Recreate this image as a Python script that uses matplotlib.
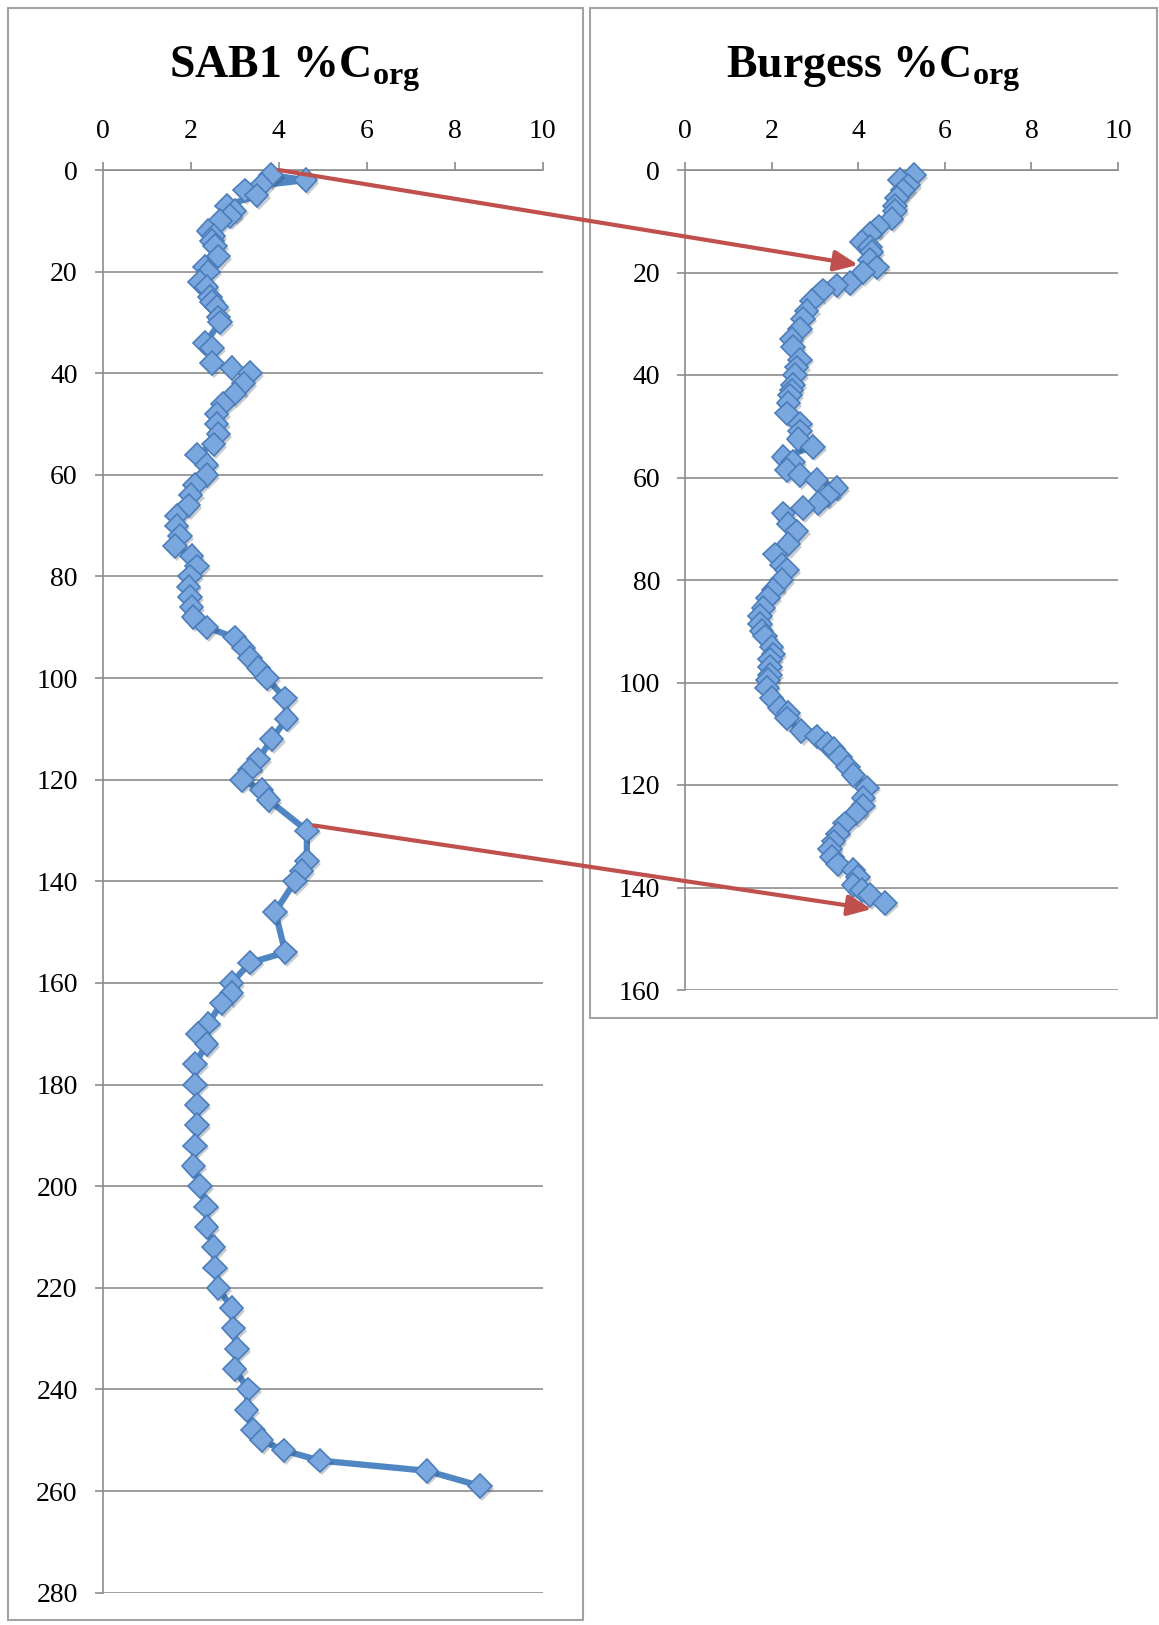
import matplotlib
matplotlib.use("Agg")
import matplotlib.pyplot as plt
import matplotlib.patheffects as pe
from matplotlib.patches import Rectangle, ConnectionPatch

plt.rcParams['font.family'] = ['Liberation Serif', 'DejaVu Serif']
plt.rcParams['mathtext.fontset'] = 'custom'
plt.rcParams['mathtext.rm'] = 'Liberation Serif'
plt.rcParams['mathtext.bf'] = 'Liberation Serif:bold'

# SAB1 core: depth (cm) and organic carbon (%)
sab1_depth = [1, 2, 3, 4, 5, 7, 8, 9, 10, 12, 13, 14, 15, 17, 19, 20, 22, 23,
              25, 26, 27, 29, 30, 34, 35, 38, 39, 40, 42, 44, 46, 48, 50, 52,
              54, 56, 58, 60, 62, 64, 66, 68, 70, 72, 74, 76, 78, 80, 82, 84,
              86, 88, 90, 92, 94, 96, 98, 100, 104, 108, 112, 116, 118, 120,
              122, 124, 130, 136, 138, 140, 146, 154, 156, 160, 162, 164, 168,
              170, 172, 176, 180, 184, 188, 192, 196, 200, 204, 208, 212, 216,
              220, 224, 228, 232, 236, 240, 244, 248, 250, 252, 254, 256, 259]
sab1_corg = [3.82, 4.61, 3.61, 3.23, 3.50, 2.82, 3.00, 2.89, 2.67, 2.40, 2.52,
             2.48, 2.55, 2.63, 2.33, 2.40, 2.20, 2.36, 2.44, 2.48, 2.59, 2.63,
             2.67, 2.33, 2.48, 2.48, 2.93, 3.35, 3.20, 3.00, 2.74, 2.59, 2.59,
             2.63, 2.52, 2.14, 2.36, 2.36, 2.10, 2.00, 1.95, 1.68, 1.68, 1.76,
             1.64, 2.02, 2.14, 1.98, 1.95, 1.98, 2.02, 2.06, 2.36, 3.00, 3.20,
             3.35, 3.54, 3.73, 4.14, 4.18, 3.84, 3.54, 3.35, 3.16, 3.61, 3.77,
             4.64, 4.64, 4.52, 4.37, 3.92, 4.15, 3.35, 2.93, 2.93, 2.70, 2.40,
             2.17, 2.36, 2.10, 2.10, 2.14, 2.14, 2.10, 2.06, 2.21, 2.35, 2.36,
             2.52, 2.55, 2.63, 2.93, 2.97, 3.05, 3.00, 3.31, 3.27, 3.42, 3.61,
             4.11, 4.94, 7.36, 8.58]

# Burgess core: depth (cm) and organic carbon (%)
burg_depth = [1, 2, 3, 4, 5.5, 7, 8, 9.5, 11, 12.5, 14, 15, 16, 17.5, 19, 20,
              22, 22.5, 23.5, 25.5, 27.5, 29, 31, 33, 34.5, 37, 38.5, 40, 42,
              43, 44, 45.5, 47.5, 49.5, 51, 52.5, 54, 56, 57, 58.5, 59.5, 60.5,
              62, 63.5, 65, 66, 67, 69, 70.5, 73, 75, 77, 78, 80, 82, 83.5,
              85.5, 87, 88.5, 90, 91, 93, 94.5, 95.5, 97, 98.5, 99.5, 101, 103,
              105, 106, 107, 109.5, 110.5, 112, 113, 114.5, 116.5, 118, 120.5,
              122.5, 124, 125.5, 127.5, 129.5, 131, 132.5, 134, 135.5, 136.5,
              138, 139.5, 140.5, 141.5, 143]
burg_corg = [5.29, 4.97, 5.16, 5.04, 4.89, 4.85, 4.85, 4.77, 4.47, 4.27, 4.08,
             4.27, 4.31, 4.27, 4.43, 4.12, 3.81, 3.50, 3.19, 2.93, 2.81, 2.73,
             2.66, 2.46, 2.50, 2.66, 2.58, 2.54, 2.50, 2.46, 2.42, 2.39, 2.35,
             2.66, 2.66, 2.62, 2.96, 2.27, 2.50, 2.35, 2.66, 3.04, 3.50, 3.30,
             3.08, 2.73, 2.27, 2.39, 2.58, 2.39, 2.08, 2.23, 2.35, 2.23, 2.04,
             1.92, 1.81, 1.73, 1.73, 1.77, 1.85, 2.00, 2.04, 1.96, 1.96, 1.96,
             1.92, 1.89, 2.00, 2.19, 2.39, 2.35, 2.69, 3.04, 3.27, 3.43, 3.58,
             3.77, 3.89, 4.20, 4.12, 4.12, 3.96, 3.70, 3.54, 3.43, 3.35, 3.39,
             3.54, 3.89, 4.00, 3.89, 4.08, 4.27, 4.62]

# correlation arrows: (SAB1 corg, SAB1 depth) -> (Burgess corg, Burgess depth)
links = [((4.0, 0.0), (4.0, 18.5)),
         ((4.8, 129.0), (4.31, 144.2))]

W, H = 1159, 1625
GRID = '#8c8c8c'
FRAME = '#a3a3a3'
LINE = '#4f86c3'
FILL = '#7aa8de'
EDGE = '#4a7dba'
RED = '#c0504d'

fig = plt.figure(figsize=(W / 100, H / 100), dpi=100)


def px_box(x0, y0, x1, y1):
    # pixel box (top-left origin) -> figure fraction rect
    return [x0 / W, 1 - y1 / H, (x1 - x0) / W, (y1 - y0) / H]


ax1 = fig.add_axes(px_box(102.7, 170, 542.7, 1592.7))
ax2 = fig.add_axes(px_box(685, 170, 1118, 990))


def style_axis(ax, ymax):
    ax.set_xlim(0, 10)
    ax.set_ylim(ymax, 0)
    ax.xaxis.tick_top()
    ax.set_xticks(range(0, 11, 2))
    ax.set_yticks(range(0, ymax + 1, 20))
    ax.yaxis.grid(True, color=GRID, lw=1.2)
    ax.set_axisbelow(True)
    for s in ['right', 'bottom']:
        ax.spines[s].set_visible(False)
    for s in ['top', 'left']:
        ax.spines[s].set_color(GRID)
        ax.spines[s].set_linewidth(1.2)
    ax.tick_params(axis='both', direction='out', length=5.5, width=1.2,
                   color=GRID, labelsize=20)
    ax.tick_params(axis='x', pad=13.5)
    ax.tick_params(axis='y', pad=12.5)
    ax.patch.set_alpha(0)


def draw_core(ax, vals, depths):
    ax.plot(vals, depths, color=LINE, lw=4.5, solid_joinstyle='round',
            zorder=3, clip_on=False)
    ax.plot(vals, depths, ls='none', marker='D', ms=12, mfc=FILL, mec=EDGE,
            mew=1.2, zorder=4, clip_on=False,
            path_effects=[pe.SimplePatchShadow(offset=(1.5, -2), alpha=0.25),
                          pe.Normal()])


style_axis(ax1, 280)
style_axis(ax2, 160)
draw_core(ax1, sab1_corg, sab1_depth)
draw_core(ax2, burg_corg, burg_depth)

# panel frames
for box in [(8, 8, 583, 1620), (590, 8, 1157, 1018)]:
    x0, y0, w, h = px_box(*box)
    fig.add_artist(Rectangle((x0, y0), w, h, transform=fig.transFigure,
                             fill=False, ec=FRAME, lw=1.5))

fig.text(295 / W, 1 - 78 / H, r'SAB1 %C$_{\mathbf{org}}$', ha='center',
         va='baseline', fontsize=33, fontweight='bold')
fig.text(873 / W, 1 - 78 / H, r'Burgess %C$_{\mathbf{org}}$', ha='center',
         va='baseline', fontsize=33, fontweight='bold')

for (a, b) in links:
    con = ConnectionPatch(xyA=a, coordsA=ax1.transData, xyB=b,
                          coordsB=ax2.transData,
                          arrowstyle='-|>,head_length=0.8,head_width=0.35',
                          mutation_scale=18, color=RED, lw=3,
                          shrinkA=0, shrinkB=0, zorder=10)
    fig.add_artist(con)

fig.savefig('out.png', dpi=100)
